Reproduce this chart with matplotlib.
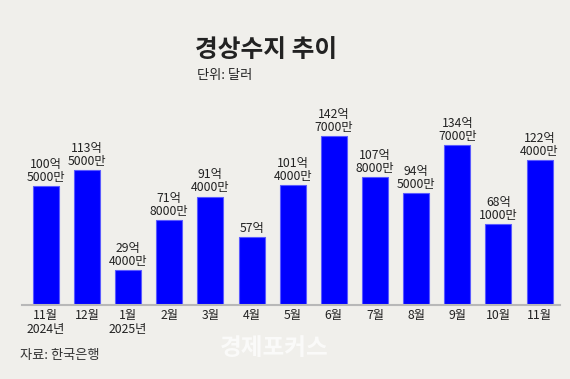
import numpy as np
import matplotlib.pyplot as plt

plt.rcParams['font.family'] = ['Noto Sans CJK KR', 'DejaVu Sans']

months = ['11월\n2024년', '12월', '1월\n2025년', '2월', '3월', '4월', '5월',
          '6월', '7월', '8월', '9월', '10월', '11월']
values = [100.5, 113.5, 29.4, 71.8, 91.4, 57.0, 101.4, 142.7, 107.8, 94.5, 134.7, 68.1, 122.4]
labels = ['100억\n5000만', '113억\n5000만', '29억\n4000만', '71억\n8000만', '91억\n4000만',
          '57억', '101억\n4000만', '142억\n7000만', '107억\n8000만', '94억\n5000만',
          '134억\n7000만', '68억\n1000만', '122억\n4000만']

bg = '#f0efeb'
fig = plt.figure(figsize=(5.7, 3.79), dpi=100, facecolor=bg)
ax = fig.add_axes([0.0386, 0.195, 0.9434, 0.47])
ax.set_facecolor(bg)

x = np.arange(len(values))
ax.bar(x, values, width=0.63, color='#0000ff', edgecolor='#5a5aff', linewidth=0.8, zorder=2)
for xi, v, lab in zip(x, values, labels):
    ax.annotate(lab, (xi, v), xytext=(0, 1.5), textcoords='offset points',
                ha='center', va='bottom', fontsize=8.8, color='#222222',
                linespacing=1.0)

ax.set_xlim(-0.58, 12.49)
ax.set_ylim(0, 150)
ax.set_xticks(x)
ax.set_xticklabels(months, fontsize=8.8, color='#222222', linespacing=1.05)
ax.tick_params(axis='x', length=0, pad=3)
ax.set_yticks([])
for s in ['top', 'right', 'left']:
    ax.spines[s].set_visible(False)
ax.spines['bottom'].set_color('#b8b8b8')
ax.spines['bottom'].set_linewidth(1.5)

fig.text(0.342, 0.868, '경상수지 추이', fontsize=17.8, fontweight='bold',
         color='#222222', ha='left', va='center')
fig.text(0.345, 0.802, '단위: 달러', fontsize=9.5, color='#222222', ha='left', va='center')
fig.text(0.035, 0.063, '자료: 한국은행', fontsize=9.5, color='#333333', ha='left', va='center')
fig.text(0.385, 0.083, '경제포커스', fontsize=17, fontweight='bold',
         color='white', alpha=0.7, ha='left', va='center')

fig.savefig('out.png', dpi=100, facecolor=bg)
